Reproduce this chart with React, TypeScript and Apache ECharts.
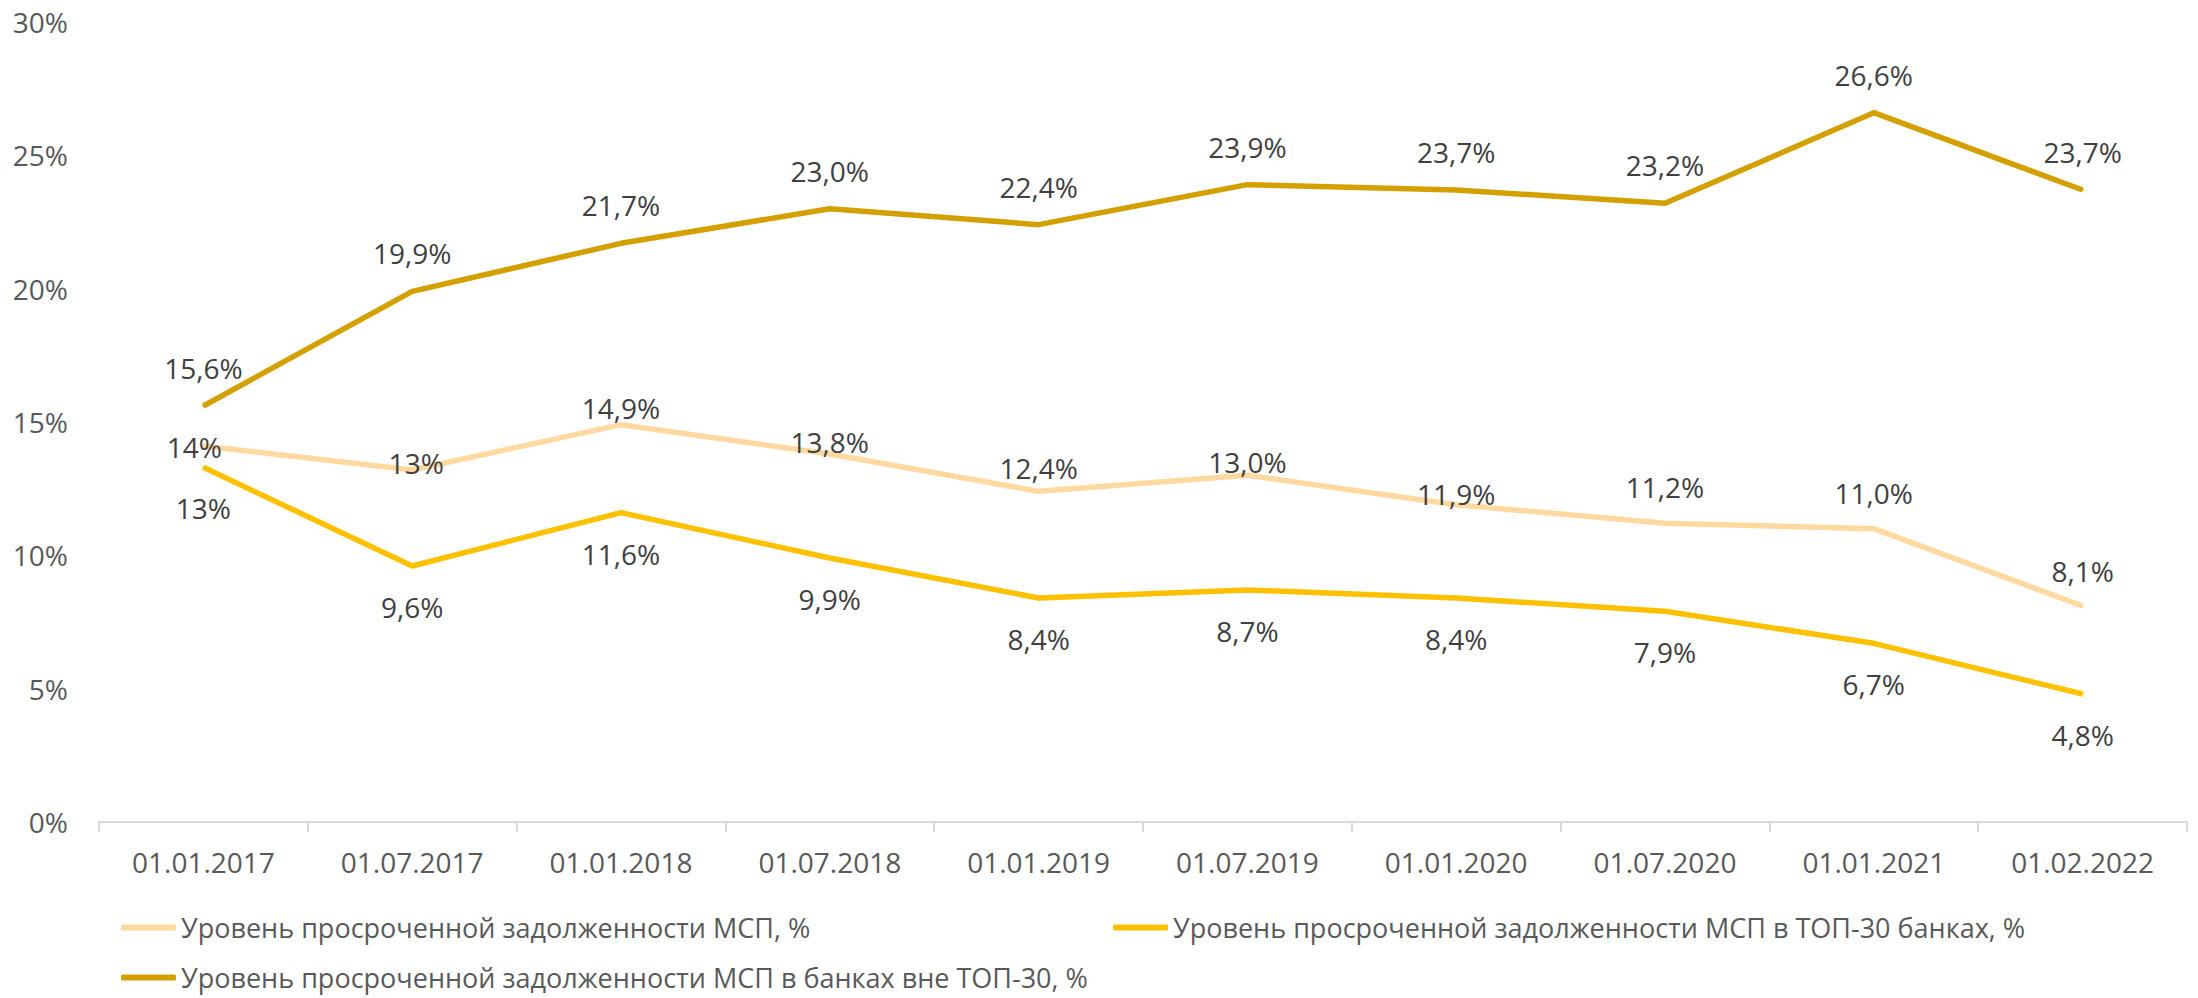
import React, { useEffect, useRef } from "react";
import * as echarts from "echarts";

const categories = [
  "01.01.2017", "01.07.2017", "01.01.2018", "01.07.2018", "01.01.2019",
  "01.07.2019", "01.01.2020", "01.07.2020", "01.01.2021", "01.02.2022",
];

const seriesNames = [
  "Уровень просроченной задолженности МСП, %",
  "Уровень просроченной задолженности МСП в ТОП-30 банках, %",
  "Уровень просроченной задолженности МСП в банках вне ТОП-30, %",
];

const smeValues = [14.1, 13.2, 14.9, 13.8, 12.4, 13.0, 11.9, 11.2, 11.0, 8.1];
const smeLabels = ["14%", "13%", "14,9%", "13,8%", "12,4%", "13,0%", "11,9%", "11,2%", "11,0%", "8,1%"];

const top30Values = [13.3, 9.6, 11.6, 9.9, 8.4, 8.7, 8.4, 7.9, 6.7, 4.8];
const top30Labels = ["13%", "9,6%", "11,6%", "9,9%", "8,4%", "8,7%", "8,4%", "7,9%", "6,7%", "4,8%"];

const outsideValues = [15.6, 19.9, 21.7, 23.0, 22.4, 23.9, 23.7, 23.2, 26.6, 23.7];
const outsideLabels = ["15,6%", "19,9%", "21,7%", "23,0%", "22,4%", "23,9%", "23,7%", "23,2%", "26,6%", "23,7%"];

const yMin = 0;
const yMax = 30;
const yStep = 5;

// label placement tweaks for the light series (pixels above the point, horizontal shift)
const smeLabelLift = [-2, 6, 16, 11, 22, 12, 10, 35, 35, 34];
const smeLabelShiftX = [-9, 4, 0, 0, 0, 0, 0, 0, 0, 0];

const COLORS = ["#FFD9A0", "#FFC000", "#D4A000"];
const FONT = "'Open Sans', 'Noto Sans', sans-serif";
const FS = 28;

export default function App() {
  const ref = useRef<HTMLDivElement>(null);

  useEffect(() => {
    if (!ref.current) return;
    const chart = echarts.init(ref.current, undefined, { renderer: "svg" });

    const labelBase = {
      show: true,
      color: "#404040",
      fontFamily: FONT,
      fontSize: FS,
    };

    const legendBase = {
      icon: "roundRect",
      itemWidth: 55,
      itemHeight: 6,
      orient: "horizontal",
      padding: 0,
      textStyle: { color: "#595959", fontFamily: FONT, fontSize: 27 },
      selectedMode: false,
    };

    const lineBase = {
      type: "line",
      symbol: "circle",
      symbolSize: 2,
      showSymbol: true,
      emphasis: { disabled: true },
    };

    chart.setOption({
      animation: false,
      backgroundColor: "#ffffff",
      grid: { left: 99, right: 11, top: 22, bottom: 176, containLabel: false },
      xAxis: {
        type: "category",
        data: categories,
        boundaryGap: true,
        axisLine: { show: true, lineStyle: { color: "#D9D9D9", width: 2 } },
        axisTick: { show: true, length: 10, lineStyle: { color: "#D9D9D9", width: 2 } },
        axisLabel: { color: "#595959", fontFamily: FONT, fontSize: FS, margin: 26 },
        splitLine: { show: false },
      },
      yAxis: {
        type: "value",
        min: yMin,
        max: yMax,
        interval: yStep,
        axisLine: { show: false },
        axisTick: { show: false },
        splitLine: { show: false },
        axisLabel: {
          color: "#595959",
          fontFamily: FONT,
          fontSize: FS,
          margin: 31,
          formatter: (v: number) => `${v}%`,
        },
      },
      legend: [
        { ...legendBase, data: [seriesNames[0]], left: 121, top: 914 },
        { ...legendBase, data: [seriesNames[1]], left: 1113, top: 914 },
        { ...legendBase, data: [seriesNames[2]], left: 121, top: 964 },
      ],
      series: [
        {
          ...lineBase,
          name: seriesNames[0],
          color: COLORS[0],
          itemStyle: { color: COLORS[0] },
          lineStyle: { width: 5.5, color: COLORS[0] },
          data: smeValues.map((v, i) => ({
            value: v,
            label: {
              ...labelBase,
              position: "top",
              distance: smeLabelLift[i] - 14,
              offset: [smeLabelShiftX[i], 0],
              formatter: () => smeLabels[i],
            },
          })),
          z: 2,
        },
        {
          ...lineBase,
          name: seriesNames[1],
          color: COLORS[1],
          itemStyle: { color: COLORS[1] },
          lineStyle: { width: 5.5, color: COLORS[1] },
          label: {
            ...labelBase,
            position: "bottom",
            distance: 26,
            formatter: (p: any) => top30Labels[p.dataIndex],
          },
          data: top30Values,
          z: 3,
        },
        {
          ...lineBase,
          name: seriesNames[2],
          color: COLORS[2],
          itemStyle: { color: COLORS[2] },
          lineStyle: { width: 5.5, color: COLORS[2] },
          label: {
            ...labelBase,
            position: "top",
            distance: 23,
            formatter: (p: any) => outsideLabels[p.dataIndex],
          },
          data: outsideValues,
          z: 4,
        },
      ],
    });

    return () => chart.dispose();
  }, []);

  return (
    <div
      ref={ref}
      style={{ position: "fixed", left: 0, top: 0, width: 2198, height: 998, background: "#fff" }}
    />
  );
}
